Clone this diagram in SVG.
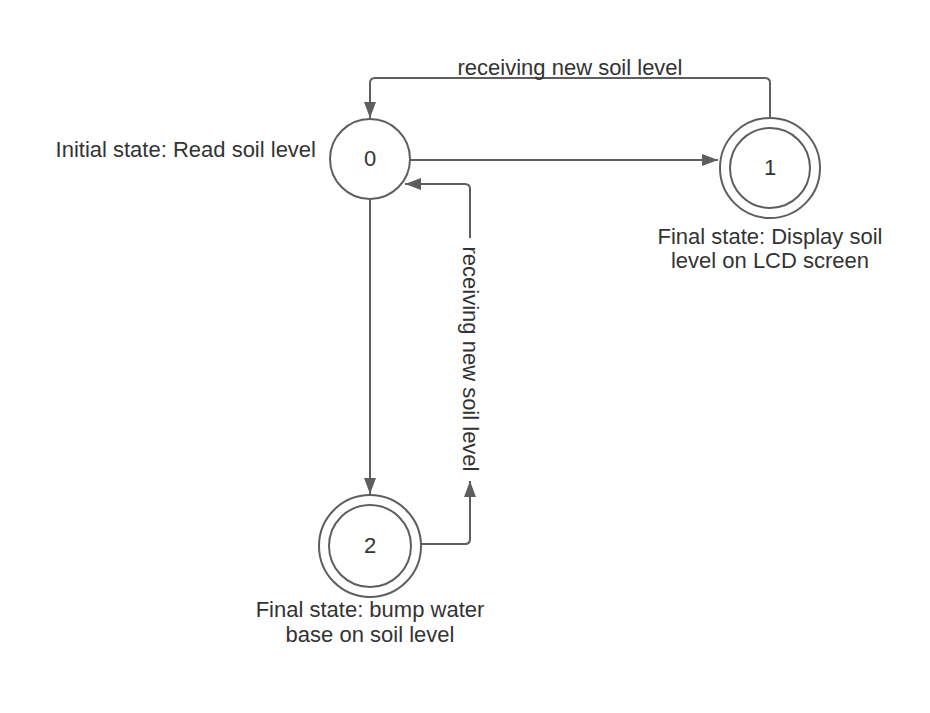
<svg xmlns="http://www.w3.org/2000/svg" width="930" height="713" viewBox="0 0 930 713">
<style>
.st{fill:none;stroke:#5e5e5e;stroke-width:2}
.ln{fill:none;stroke:#5e5e5e;stroke-width:2;stroke-linejoin:round}
text{font-family:"Liberation Sans",Arial,sans-serif;font-size:22px;fill:#333333}
.c{text-anchor:middle}
</style>
<defs>
<marker id="ah" markerUnits="userSpaceOnUse" markerWidth="18" markerHeight="14" refX="16" refY="6" orient="auto">
<path d="M0,0 L16,6 L0,12 Z" fill="#5e5e5e"/>
</marker>
</defs>
<rect width="930" height="713" fill="#ffffff"/>
<g id="connectors">
<path class="ln" d="M410,160 H718" marker-end="url(#ah)"/>
<path class="ln" d="M770,118 V83 Q770,78 765,78 H375 Q370,78 370,83 V118" marker-end="url(#ah)"/>
<path class="ln" d="M370,199 V494" marker-end="url(#ah)"/>
<path class="ln" d="M421,544 H465 Q470,544 470,539 V481" marker-end="url(#ah)"/>
<path class="ln" d="M470,238 V189 Q470,184 465,184 H405" marker-end="url(#ah)"/>
<text class="c" x="570" y="75">receiving new soil level</text>
<text class="c" transform="translate(470,359) rotate(90)" x="0" y="7.5">receiving new soil level</text>
</g>
<g id="node0">
<circle class="st" cx="370" cy="159" r="40"/>
<text class="c" x="370" y="166">0</text>
<text x="316" y="157" text-anchor="end">Initial state: Read soil level</text>
</g>
<g id="node1">
<circle class="st" cx="770" cy="168" r="50"/>
<circle class="st" cx="770" cy="168" r="40"/>
<text class="c" x="770" y="175">1</text>
<text class="c" x="770" y="244">Final state: Display soil</text>
<text class="c" x="770" y="268">level on LCD screen</text>
</g>
<g id="node2">
<circle class="st" cx="370" cy="546" r="51"/>
<circle class="st" cx="370" cy="546" r="41"/>
<text class="c" x="370" y="553">2</text>
<text class="c" x="370" y="617">Final state: bump water</text>
<text class="c" x="370" y="642">base on soil level</text>
</g>
</svg>
